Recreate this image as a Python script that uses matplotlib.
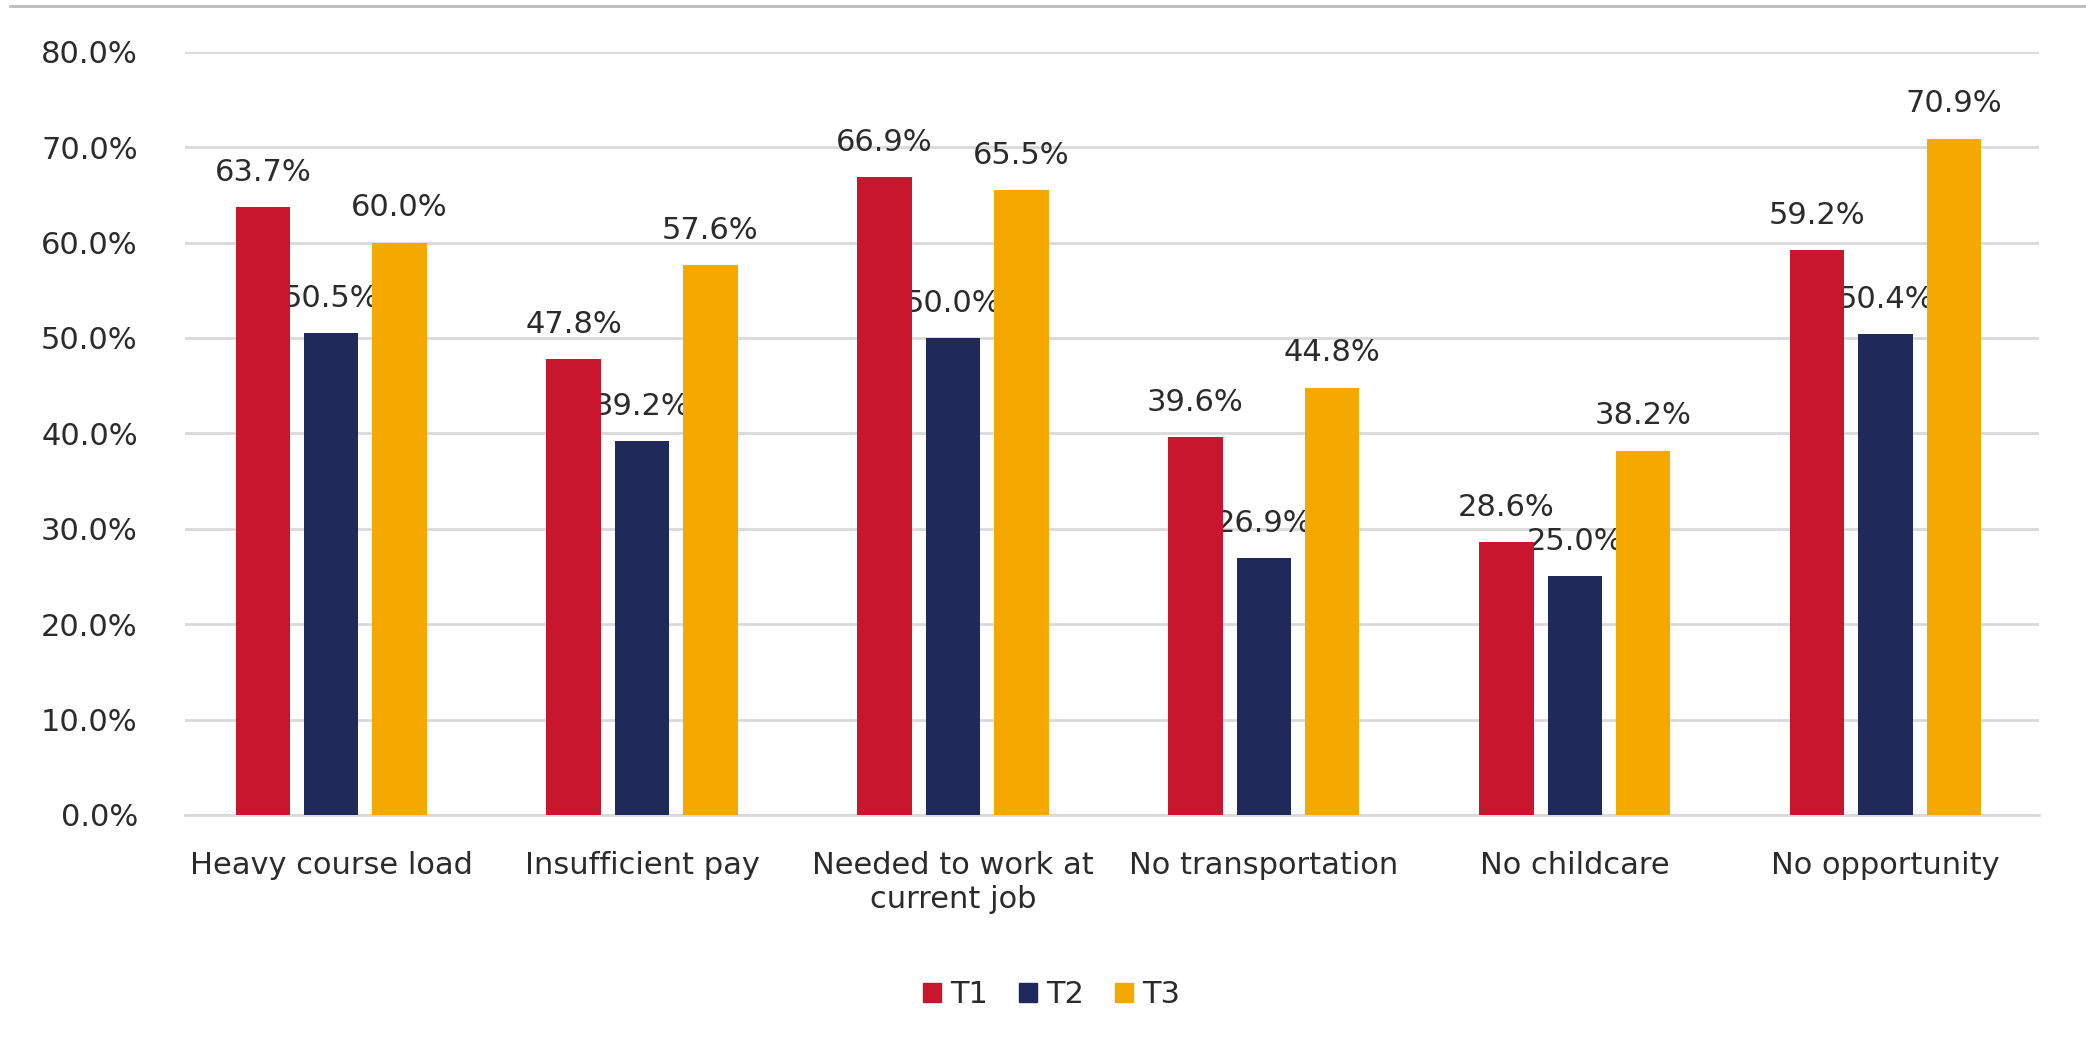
import matplotlib.pyplot as plt
import numpy as np
from matplotlib.lines import Line2D
from matplotlib.patches import Patch

categories = ["Heavy course load", "Insufficient pay", "Needed to work at\ncurrent job",
              "No transportation", "No childcare", "No opportunity"]
series_names = ["T1", "T2", "T3"]
t1 = [63.7, 47.8, 66.9, 39.6, 28.6, 59.2]
t2 = [50.5, 39.2, 50.0, 26.9, 25.0, 50.4]
t3 = [60.0, 57.6, 65.5, 44.8, 38.2, 70.9]
yticks = [0, 10, 20, 30, 40, 50, 60, 70, 80]

colors = ["#C8162F", "#1F2A5A", "#F5A800"]

plt.rcParams['font.family'] = ['DejaVu Sans']

fig = plt.figure(figsize=(20.86, 10.57), dpi=100)
ax = fig.add_axes([0.0887, 0.229, 0.889, 0.722])

x = np.arange(len(categories))
width = 0.175
offsets = [-0.22, 0.0, 0.22]

for vals, off, c, name in zip([t1, t2, t3], offsets, colors, series_names):
    bars = ax.bar(x + off, [v / 100 for v in vals], width, color=c, label=name, zorder=3)
    for b, v in zip(bars, vals):
        # labels sit under the bars, so neighbours can clip them like in the original
        ax.annotate(f"{v:.1f}%", (b.get_x() + b.get_width() / 2, b.get_height()),
                    xytext=(0, 25), textcoords='offset points', ha='center', va='center',
                    fontsize=22, color='#2B2B2B', zorder=2)

ax.set_ylim(0, 0.8)
ax.set_xlim(-0.47, 5.495)
ax.set_yticks([t / 100 for t in yticks])
ax.set_yticklabels([f"{t:.1f}%" for t in yticks])
ax.set_xticks(x)
ax.set_xticklabels(categories)
ax.tick_params(axis='y', length=0, pad=34, labelsize=22, labelcolor='#2B2B2B')
ax.tick_params(axis='x', length=0, pad=26, labelsize=22, labelcolor='#2B2B2B')
ax.grid(axis='y', color='#D9D9D9', linewidth=2, zorder=0)
for s in ['top', 'right', 'left']:
    ax.spines[s].set_visible(False)
ax.spines['bottom'].set_color('#D9D9D9')
ax.spines['bottom'].set_linewidth(2)

handles = [Patch(color=c) for c in colors]
fig.legend(handles, series_names, loc='center', bbox_to_anchor=(0.504, 0.0587), ncol=3,
           frameon=False, fontsize=22, handlelength=0.6, handleheight=0.6,
           handletextpad=0.3, columnspacing=1.0, labelcolor='#2B2B2B')

fig.add_artist(Line2D([0.005, 1.0], [0.994, 0.994], color='#BBBBBB', linewidth=2))

fig.savefig("out.png", dpi=100, facecolor='white')
